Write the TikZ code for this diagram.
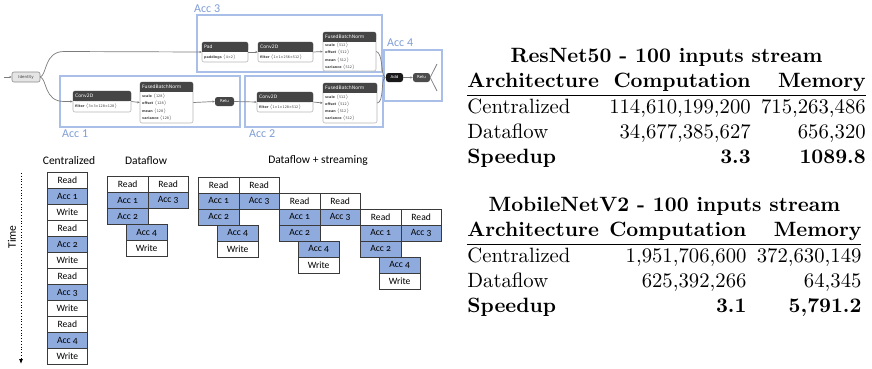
\documentclass[tikz,border=0pt]{standalone}
\usepackage{fontspec}
\usetikzlibrary{arrows.meta}
\newfontfamily\cellfont{Carlito}[Numbers=OldStyle]
\newfontfamily\labfont{Carlito}
\newfontfamily\netfont{DejaVu Sans}
\definecolor{accblue}{HTML}{8FAADC}
\definecolor{boxblue}{HTML}{A9BFE8}
\definecolor{labblue}{HTML}{7F9ED6}
\definecolor{headgray}{HTML}{454545}
\definecolor{edgegray}{HTML}{7C7C7C}
\definecolor{framegray}{HTML}{B8B8B8}
\definecolor{cellline}{HTML}{3A3A3A}
\setlength{\arrayrulewidth}{0.7pt}

\newcommand\shp[1]{$\langle$#1$\rangle$}
% Netron-style operator: name, x1, y1, x2, header bottom, y2, title, attributes
\newcommand\netop[8]{%
  \node[netframe, minimum width={(#4-#2)*1pt}, minimum height={(#6-#3)*1pt}]
    (#1) at ({(#2+#4)/2},{(#3+#6)/2}) {};
  \fill[headgray, rounded corners=2pt] (#2,#3) rectangle (#4,#5);
  \fill[headgray] (#2,{#5-2}) rectangle (#4,#5);
  \node[nettitle] (#1-t) at ({#2+2},{(#3+#5)/2}) {#7};
  \node[netbody] (#1-b) at ({#2+2},{(#5+#6)/2}) {#8};
}
% one dataflow schedule: prefix, left x, top y
\newcommand\dfgroup[3]{%
  \node[cell]    (#1r1) at (#2,#3) {Read};
  \node[cell]    (#1r3) at ({#2+40.5},#3) {Read};
  \node[acccell] (#1a1) at (#2,{#3+16}) {Acc 1};
  \node[acccell] (#1a3) at ({#2+40.5},{#3+16}) {Acc 3};
  \node[acccell] (#1a2) at (#2,{#3+32}) {Acc 2};
  \node[acccell] (#1a4) at ({#2+19},{#3+48}) {Acc 4};
  \node[cell]    (#1w)  at ({#2+19},{#3+64}) {Write};
}

\tikzset{
  netframe/.style={draw=framegray, fill=white, rounded corners=2pt, inner sep=0pt, line width=0.6pt},
  nettitle/.style={anchor=west, inner sep=0pt, text=white, font=\netfont\fontsize{4.6}{5}\selectfont},
  netbody/.style={anchor=west, align=left, inner sep=0pt, text=black!75, font=\netfont\fontsize{3.4}{7.2}\selectfont},
  darkop/.style={fill=#1, rounded corners=2.5pt, inner sep=0pt, minimum width=17pt, minimum height=9pt, text=white, font=\netfont\fontsize{4}{5}\selectfont},
  netarrow/.style={draw=edgegray, line width=0.7pt, -{Stealth[length=2.4pt,width=2.2pt]}},
  netline/.style={draw=edgegray, line width=0.7pt},
  accbox/.style={draw=boxblue, line width=1.8pt},
  acclab/.style={anchor=base west, inner sep=0pt, text=labblue, font=\labfont\fontsize{12}{14}\selectfont},
  cell/.style={draw=cellline, line width=0.8pt, minimum width=40.5pt, minimum height=16pt, inner sep=0pt, anchor=north west, font=\cellfont\fontsize{9.6}{10}\selectfont},
  acccell/.style={cell, fill=accblue},
  coltitle/.style={inner sep=0pt, font=\labfont\fontsize{11.5}{13}\selectfont},
  tbl/.style={scale=2.07, inner sep=0pt, anchor=north west, font=\fontsize{10}{12}\selectfont},
}

\begin{document}
\begin{tikzpicture}[x=1pt, y=-1pt]
\useasboundingbox (0,0) rectangle (872,368);
\fill[white] (0,0) rectangle (872,368);

% ---------- accelerator partition of the graph ----------
\draw[accbox] (197,15) rectangle (382,72);
\draw[accbox] (384,50) rectangle (442,101);
\draw[accbox] (60,76) rectangle (240,127);
\draw[accbox] (245,76) rectangle (383,127);
\node[acclab] (lab3) at (194,12) {Acc 3};
\node[acclab] (lab4) at (387,46) {Acc 4};
\node[acclab] (lab1) at (62,137.5) {Acc 1};
\node[acclab] (lab2) at (249,137.5) {Acc 2};

% ---------- operators ----------
\node[netframe, fill=black!10, draw=black!45, minimum width=28pt, minimum height=10pt,
      text=black!75, font=\netfont\fontsize{4}{5}\selectfont] (idn) at (26,77) {Identity};
\netop{pad}{202}{42}{248}{51.5}{62}{Pad}{\textbf{paddings} \shp{4×2}}
\netop{cv3}{258}{42}{313}{51.5}{62}{Conv2D}{\textbf{filter} \shp{1×1×256×512}}
\netop{fb3}{323}{32}{376}{41.5}{71}{FusedBatchNorm}{\textbf{scale} \shp{512}\\\textbf{offset} \shp{512}\\\textbf{mean} \shp{512}\\\textbf{variance} \shp{512}}
\netop{cv1}{73}{91}{131}{101}{112}{Conv2D}{\textbf{filter} \shp{3×3×128×128}}
\netop{fb1}{140}{82}{193}{91.5}{123}{FusedBatchNorm}{\textbf{scale} \shp{128}\\\textbf{offset} \shp{128}\\\textbf{mean} \shp{128}\\\textbf{variance} \shp{128}}
\node[darkop=headgray, minimum width=19pt] (rl1) at (224.5,101.5) {Relu};
\netop{cv2}{257}{92}{313}{102}{112}{Conv2D}{\textbf{filter} \shp{1×1×128×512}}
\netop{fb2}{323}{83}{377}{92.5}{123}{FusedBatchNorm}{\textbf{scale} \shp{512}\\\textbf{offset} \shp{512}\\\textbf{mean} \shp{512}\\\textbf{variance} \shp{512}}
\node[darkop=black!90] (add) at (394.5,77.5) {Add};
\node[darkop=black!70] (rl4) at (421.5,77.5) {Relu};

% ---------- edges ----------
\coordinate (src) at (4,77);
\coordinate (out1) at (437,64);
\coordinate (out2) at (437,91);
\draw[netarrow] (src) -- (idn.west);
\draw[netarrow] (idn.east) .. controls (47,75) and (44,51.5) .. (64,51.5) -- (pad.west);
\draw[netarrow] (idn.east) .. controls (47,79) and (44,101.5) .. (64,101.5) -- (cv1.west);
\draw[netarrow] (pad.east) -- (cv3.west);
\draw[netarrow] (cv3.east) -- (fb3.west);
\draw[netarrow] (cv1.east) -- (fb1.west);
\draw[netarrow] (fb1.east) -- (rl1.west);
\draw[netarrow] (rl1.east) -- (cv2.west);
\draw[netarrow] (cv2.east) -- (fb2.west);
\draw[netarrow] (fb3.east) .. controls (383,53) and (381,75) .. (add.west);
\draw[netarrow] (fb2.east) .. controls (384,102) and (381,80) .. (add.west);
\draw[netarrow] (add.east) -- (rl4.west);
\draw[netline] (rl4.east) -- (out1);
\draw[netline] (rl4.east) -- (out2);

% ---------- schedules ----------
\node[coltitle] (hcen) at (69,161) {Centralized};
\node[coltitle] (hdf) at (146,161) {Dataflow};
\node[coltitle] (hst) at (318,161) {Dataflow + streaming};
\node[coltitle, rotate=90] (time) at (12,237) {Time};
\coordinate (ttop) at (21,173);
\coordinate (tbot) at (21,364);
\draw[dotted, line width=0.8pt, -{Latex[length=5pt,width=4pt]}] (ttop) -- (tbot);

\foreach \t/\s [count=\i] in {Read/cell, Acc 1/acccell, Write/cell, Read/cell, Acc 2/acccell, Write/cell,
                             Read/cell, Acc 3/acccell, Write/cell, Read/cell, Acc 4/acccell, Write/cell}
  \node[\s, minimum width=40pt] (cen\i) at (47,{172+16*(\i-1)}) {\t};

\dfgroup{df}{107}{176}
\dfgroup{sa}{198}{176.5}
\dfgroup{sb}{279}{192.5}
\dfgroup{sc}{360}{208.5}

% ---------- results ----------
\node[tbl] (tres) at (467,44.8) {%
  \begin{tabular}{@{}l@{\hspace{5pt}}r@{\hspace{5pt}}r@{}}
  \multicolumn{3}{c}{\textbf{ResNet50 - 100 inputs stream}}\\
  \textbf{Architecture} & \textbf{Computation} & \textbf{Memory}\\ \hline
  Centralized & 114,610,199,200 & 715,263,486\\
  Dataflow & 34,677,385,627 & 656,320\\
  \textbf{Speedup} & \textbf{3.3} & \textbf{1089.8}
  \end{tabular}};
\node[tbl] (tmob) at (467,193.8) {%
  \begin{tabular}{@{}l@{\hspace{5pt}}r@{\hspace{5pt}}r@{}}
  \multicolumn{3}{c}{\textbf{MobileNetV2 - 100 inputs stream}}\\
  \textbf{Architecture} & \textbf{Computation} & \textbf{Memory}\\ \hline
  Centralized & 1,951,706,600 & 372,630,149\\
  Dataflow & 625,392,266 & 64,345\\
  \textbf{Speedup} & \textbf{3.1} & \textbf{5,791.2}
  \end{tabular}};
\end{tikzpicture}
\end{document}
